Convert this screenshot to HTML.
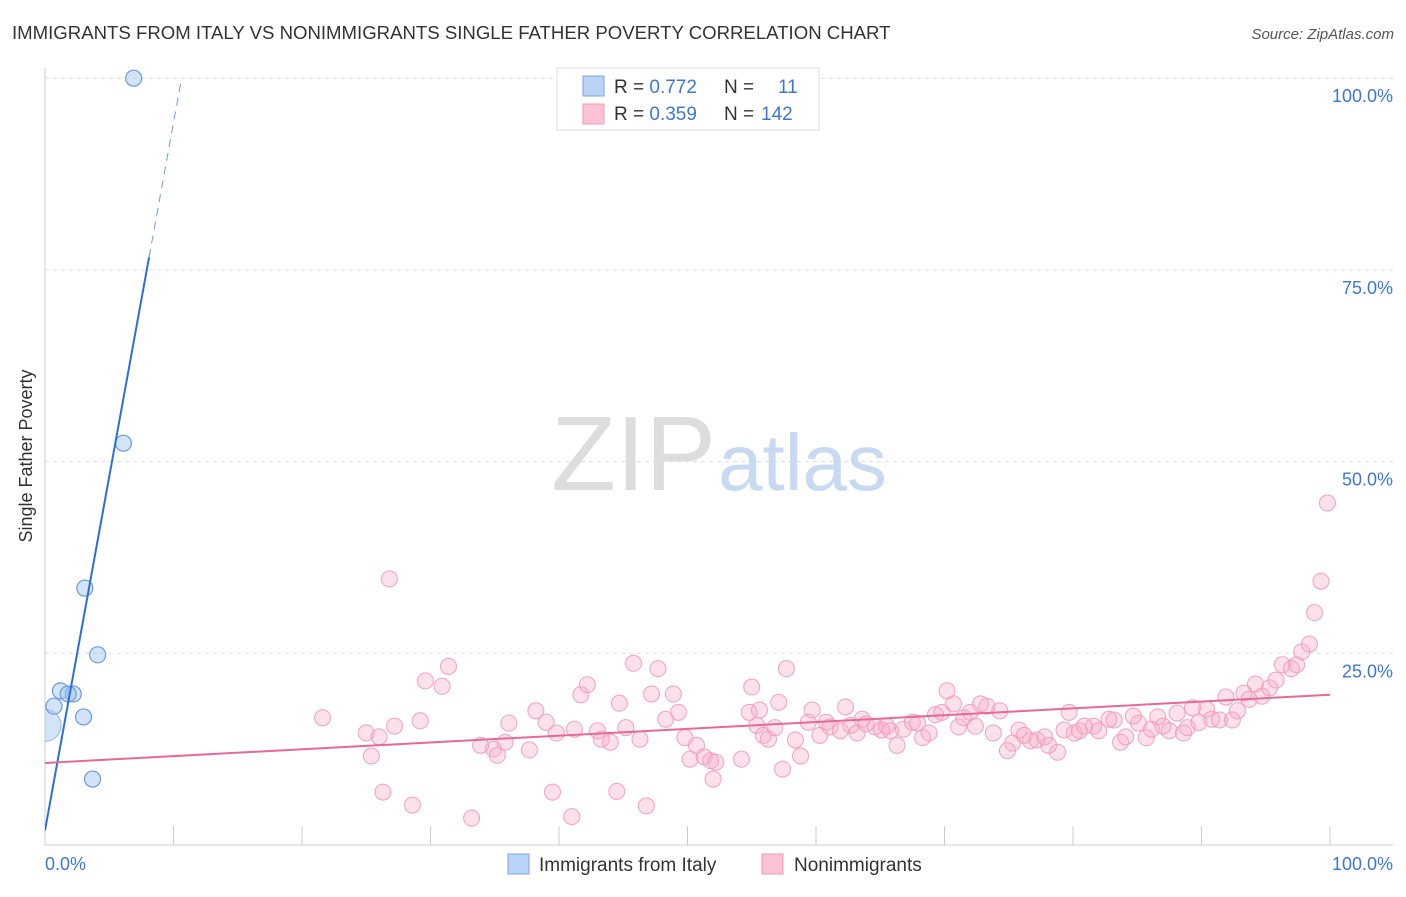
<!DOCTYPE html>
<html><head><meta charset="utf-8"><style>
body{margin:0;background:#fff;font-family:"Liberation Sans",sans-serif;}
svg text{font-family:"Liberation Sans",sans-serif;}
</style></head><body>
<svg id="chart" width="1406" height="892">
<defs><clipPath id="plotclip"><rect x="45" y="60" width="1360" height="786"/></clipPath></defs>
<text x="12" y="39" font-size="18.6" fill="#333">IMMIGRANTS FROM ITALY VS NONIMMIGRANTS SINGLE FATHER POVERTY CORRELATION CHART</text>
<text x="1394" y="39" font-size="15" fill="#555" font-style="italic" text-anchor="end">Source: ZipAtlas.com</text>
<text x="32" y="456" font-size="18" fill="#333" transform="rotate(-90 32 456)" text-anchor="middle">Single Father Poverty</text>
<g id="grid"></g>
<text x="716" y="490" font-size="106" fill="#ddd" text-anchor="end" font-family="Liberation Serif">ZIP</text>
<text x="718" y="490" font-size="80" fill="#c8daf2">atlas</text>
<g id="marks" clip-path="url(#plotclip)"></g>
<g>
<rect x="557" y="68" width="262" height="62" fill="#fff" stroke="#ddd"/>
<rect x="583" y="76" width="21" height="20" fill="#b8d3f5" stroke="#7aa6e0"/>
<rect x="583" y="104" width="21" height="20" fill="#fbc3d4" stroke="#f09ab4"/>
<text x="614" y="93" font-size="19" fill="#333">R = <tspan fill="#3b78d4">0.772</tspan><tspan x="724">N = </tspan><tspan x="778" fill="#3b78d4">11</tspan></text>
<text x="614" y="120" font-size="19" fill="#333">R = <tspan fill="#3b78d4">0.359</tspan><tspan x="724">N = </tspan><tspan x="761" fill="#3b78d4">142</tspan></text>
</g>
<g>
<rect x="508" y="854" width="21" height="20" fill="#b8d3f5" stroke="#7aa6e0"/>
<text x="539" y="871" font-size="19" fill="#333">Immigrants from Italy</text>
<rect x="762" y="854" width="21" height="20" fill="#fbc3d4" stroke="#f09ab4"/>
<text x="794" y="871" font-size="19" fill="#333">Nonimmigrants</text>
</g>
</svg>
<script>
const yTicks=[100,75,50,25];
const yTickLabels=["100.0%","75.0%","50.0%","25.0%"];
const xTicks=[10,20,30,40,50,60,70,80,90,100];
const xEndLabels=["0.0%","100.0%"];
const italyX=[6.9,6.1,3.1,4.1,1.2,2.2,1.8,0.7,3.0,3.7];
const italyY=[100,52.4,33.5,24.8,20.1,19.7,19.7,18.1,16.7,8.6];
const italyBigX=[0];
const italyBigY=[15.6];
const nonX=[21.6,25.0,25.4,26.0,26.3,26.8,27.2,28.6,29.2,29.6,30.9,31.4,33.2,33.9,34.9,35.2,35.8,36.1,37.7,38.2,39.0,39.5,39.8,41.0,41.2,41.7,42.2,43.0,43.3,44.0,44.5,44.7,45.2,45.8,46.3,46.8,47.2,47.7,48.3,48.9,49.3,49.8,50.2,50.7,51.3,51.8,52.0,52.2,54.2,54.8,55.0,55.4,55.6,55.9,56.3,56.8,57.1,57.4,57.7,58.4,58.8,59.4,59.7,60.3,60.8,61.1,61.9,62.3,62.7,63.2,63.6,63.9,64.6,65.1,65.5,65.8,66.3,66.8,67.5,67.9,68.3,68.8,69.3,69.8,70.2,70.7,71.1,71.5,72.0,72.4,72.8,73.3,73.8,74.3,74.9,75.3,75.8,76.2,76.7,77.2,77.8,78.1,78.8,79.3,79.7,80.1,80.5,80.9,81.6,82.0,82.8,83.2,83.7,84.1,84.7,85.1,85.7,86.1,86.6,87.0,87.5,88.1,88.6,88.9,89.3,89.8,90.4,90.8,91.4,91.9,92.4,92.8,93.3,93.7,94.2,94.7,95.3,95.8,96.3,97.0,97.4,97.8,98.4,98.8,99.3,99.8];
const nonY=[16.6,14.6,11.6,14.1,6.9,34.7,15.5,5.2,16.2,21.4,20.7,23.3,3.5,13.0,12.5,11.7,13.4,15.9,12.4,17.5,16.0,6.9,14.6,3.7,15.1,19.6,20.9,14.9,13.8,13.4,7.0,18.5,15.3,23.7,13.8,5.1,19.7,23.0,16.4,19.7,17.3,14.0,11.2,13.0,11.5,11.0,8.6,10.8,11.2,17.3,20.6,15.6,17.6,14.3,13.8,15.3,18.6,9.9,23.0,13.7,11.6,16.0,17.6,14.3,16.0,15.4,14.9,18.0,15.6,14.6,16.4,15.8,15.4,15.0,15.5,14.9,13.0,15.1,16.0,15.9,14.0,14.6,17.0,17.3,20.1,18.4,15.4,16.6,17.3,15.5,18.4,18.1,14.6,17.5,12.3,13.3,15.0,14.3,13.6,13.7,14.1,13.0,12.1,15.0,17.3,14.6,14.9,15.5,15.5,14.9,16.4,16.3,13.4,14.1,16.8,15.9,14.0,15.1,16.7,15.5,14.9,17.2,14.6,15.3,17.9,16.0,17.7,16.4,16.3,19.3,16.3,17.5,19.8,19.0,21.0,19.4,20.5,21.5,23.5,23.0,23.5,25.2,26.2,30.3,34.4,44.6];
const italyTrend=[1.9,9.23]; // intercept, slope
const nonTrend=[10.7,19.6];  // y at x=0, y at x=100

const X=v=>45+v*12.85, Y=v=>845-v*7.668;
const NS="http://www.w3.org/2000/svg";
function mk(tag,attrs,parent){const e=document.createElementNS(NS,tag);for(const k in attrs)e.setAttribute(k,attrs[k]);parent.appendChild(e);return e;}
const grid=document.getElementById('grid'), marks=document.getElementById('marks');
let ax=mk('line',{x1:45,y1:68,x2:45,y2:845,stroke:'#ccc'},grid);


let bx=mk('line',{x1:45,y1:845,x2:1393,y2:845,stroke:'#ccc'},grid);


yTicks.forEach((t,i)=>{
 const g=mk('line',{x1:45,y1:Y(t),x2:1393,y2:Y(t),stroke:'#ddd','stroke-dasharray':'4,4'},grid);
 
 
 const l=mk('text',{x:1393,y:Y(t)+24,'font-size':18,fill:'#3b78d4','text-anchor':'end'},grid);
 l.textContent=yTickLabels[i];
 
 
});
xTicks.forEach(t=>{
 const g=mk('line',{x1:X(t),y1:826,x2:X(t),y2:845,stroke:'#ccc'},grid);
 
 
});
[[0,'start',45],[100,'end',1393]].forEach((a,i)=>{
 const l=mk('text',{x:a[2],y:870,'font-size':18,fill:'#3b78d4','text-anchor':a[1]},grid);
 l.textContent=xEndLabels[i];
 
 
});
nonX.forEach((x,i)=>{
 const c=mk('circle',{cx:X(x),cy:Y(nonY[i]),r:8,fill:'rgba(248,170,195,0.35)',stroke:'#f3a0bb','stroke-width':1},marks);
 
 
});
italyBigX.forEach((x,i)=>{
 const c=mk('circle',{cx:X(x),cy:Y(italyBigY[i]),r:16,fill:'rgba(160,195,240,0.45)',stroke:'#8ab2e6','stroke-width':1},marks);
 
 
});
italyX.forEach((x,i)=>{
 const c=mk('circle',{cx:X(x),cy:Y(italyY[i]),r:8,fill:'rgba(160,195,240,0.45)',stroke:'#6a9be0','stroke-width':1.2},marks);
 
 
});
const solidEnd=8.1, dashEnd=(100-italyTrend[0])/italyTrend[1];
let l1=mk('line',{x1:X(0),y1:Y(italyTrend[0]),x2:X(solidEnd),y2:Y(italyTrend[0]+italyTrend[1]*solidEnd),stroke:'#2a6fd6','stroke-width':2},marks);


let l2=mk('line',{x1:X(solidEnd),y1:Y(italyTrend[0]+italyTrend[1]*solidEnd),x2:X(dashEnd),y2:Y(100),stroke:'#6a9be0','stroke-width':1,'stroke-dasharray':'8,6'},marks);


let l3=mk('line',{x1:X(0),y1:Y(nonTrend[0]),x2:X(100),y2:Y(nonTrend[1]),stroke:'#e8689a','stroke-width':2},marks);


</script>
</body></html>
